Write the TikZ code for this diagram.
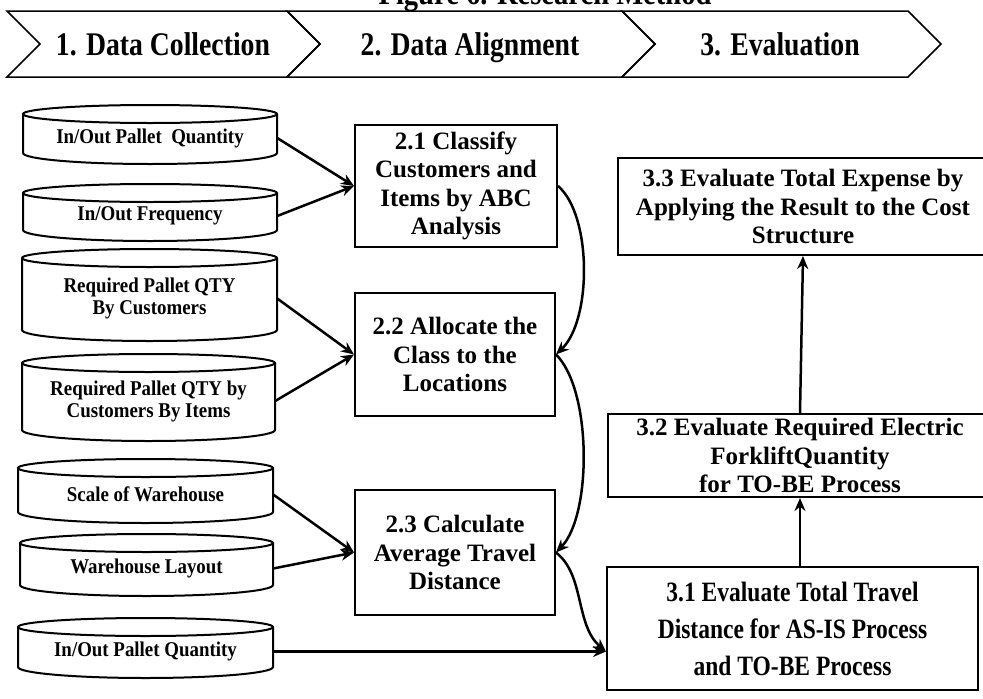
\documentclass[tikz,border=0pt]{standalone}
\usepackage{fontspec}
\setmainfont{Liberation Serif}
\newfontfamily\condfont[FakeStretch=0.84]{Liberation Serif}
\newfontfamily\cylfont[FakeStretch=0.9]{Liberation Serif}
\usetikzlibrary{arrows.meta}
\tikzset{
  chev/.style={draw=black, line width=1.5pt, line join=miter},
  chevtext/.style={font=\condfont\bfseries\fontsize{33}{36}\selectfont, anchor=base, inner sep=0pt},
  cylline/.style={draw=black, line width=2pt},
  cylbody/.style={inner sep=0pt, align=center, font=\cylfont\bfseries\fontsize{21}{22}\selectfont},
  procbox/.style={draw=black, line width=2pt, inner sep=0pt, align=center, font=\bfseries\fontsize{25}{28.5}\selectfont},
  condbox/.style={procbox, font=\condfont\bfseries\fontsize{28}{37}\selectfont},
  arr/.style={line width=2.5pt, -{Stealth[length=13pt,width=11pt]}},
}
% name, x1, x2, ytop, ybot, text
\newcommand{\dbcyl}[6]{%
  \pgfmathsetmacro\cylcx{(#2+#3)/2}%
  \pgfmathsetmacro\cylrx{(#3-#2)/2}%
  \pgfmathsetmacro\cylcy{-(#4+9+#5)/2}%
  \pgfmathsetmacro\cylw{#3-#2}%
  \pgfmathsetmacro\cylh{#5-#4-9}%
  \draw[cylline, fill=white] (#2,-#4) -- (#2,-#5) arc[start angle=180, end angle=360, x radius=\cylrx, y radius=11] -- (#3,-#4);
  \draw[cylline] (\cylcx,-#4) ellipse[x radius=\cylrx, y radius=9];
  \node[cylbody, minimum width=\cylw pt, minimum height=\cylh pt] (#1) at (\cylcx,\cylcy) {#6};
}
\begin{document}
\begin{tikzpicture}[x=1pt, y=1pt]
\useasboundingbox (0,0) rectangle (983,-699);
% title (cut off at the top, as in the reference)
\node[font=\condfont\bfseries\fontsize{34}{36}\selectfont, anchor=base, inner sep=0pt] (title) at (545,-4) {Figure 6. Research Method};
% chevrons
\draw[chev] (7,-11) -- (287,-11) -- (320,-44) -- (287,-77) -- (7,-77) -- (40,-44) -- cycle;
\draw[chev] (287,-11) -- (622,-11) -- (655,-44) -- (622,-77) -- (287,-77) -- (320,-44) -- cycle;
\draw[chev] (622,-11) -- (908,-11) -- (941,-44) -- (908,-77) -- (622,-77) -- (655,-44) -- cycle;
\node[chevtext] (s1) at (163,-55) {1. Data Collection};
\node[chevtext] (s2) at (470,-55) {2. Data Alignment};
\node[chevtext] (s3) at (780,-55) {3. Evaluation};
% data cylinders
\dbcyl{c1}{23}{277}{114}{153}{In/Out Pallet\ \ Quantity}
\dbcyl{c2}{23}{277}{193}{230}{In/Out Frequency}
\dbcyl{c3}{22}{277}{258}{330}{Required Pallet QTY\\By Customers}
\dbcyl{c4}{22}{275}{363}{430}{Required Pallet QTY by\\Customers By Items}
\dbcyl{c5}{18}{273}{468}{512}{Scale of Warehouse}
\dbcyl{c6}{20}{273}{543}{585}{Warehouse Layout}
\dbcyl{c7}{18}{273}{627}{667}{In/Out Pallet Quantity}
% process boxes
\node[procbox, minimum width=202pt, minimum height=122pt] (b21) at (456,-186) {2.1 Classify\\Customers and\\Items by ABC\\Analysis};
\node[procbox, minimum width=200pt, minimum height=123pt] (b22) at (455,-354.5) {2.2 Allocate the\\Class to the\\Locations};
\node[procbox, minimum width=200pt, minimum height=125pt] (b23) at (455,-552.5) {2.3 Calculate\\Average Travel\\Distance};
\node[procbox, minimum width=370pt, minimum height=97pt] (b33) at (803,-206.5) {3.3 Evaluate Total Expense by\\Applying the Result to the Cost\\Structure};
\node[procbox, text depth=0pt, minimum width=384pt, minimum height=83pt] (b32) at (800,-455.5) {3.2 Evaluate Required Electric\\ForkliftQuantity\\for TO-BE Process};
\node[condbox, minimum width=371pt, minimum height=123pt] (b31) at (792.5,-628.5) {3.1 Evaluate Total Travel\\Distance for AS-IS Process\\and TO-BE Process};
\coordinate (m31) at (b31.west |- c7.east);
% connectors
\draw[arr] (c1.east) -- (b21.west);
\draw[arr] (c2.east) -- (b21.west);
\draw[arr] (c3.east) -- (b22.west);
\draw[arr] (c4.east) -- (b22.west);
\draw[arr] (c5.east) -- (b23.west);
\draw[arr] (c6.east) -- (b23.west);
\draw[arr] (c7.east) -- (m31);
\draw[arr] (b21.east) .. controls (592,-215) and (592,-320) .. (b22.east);
\draw[arr] (b22.east) .. controls (592,-390) and (592,-515) .. (b23.east);
\draw[arr] (b23.east) .. controls (585,-575) and (575,-625) .. (m31);
\draw[arr] (b31.north -| b32.south) -- (b32.south);
\draw[arr] (b32.north) -- (b33.south);
\end{tikzpicture}
\end{document}
